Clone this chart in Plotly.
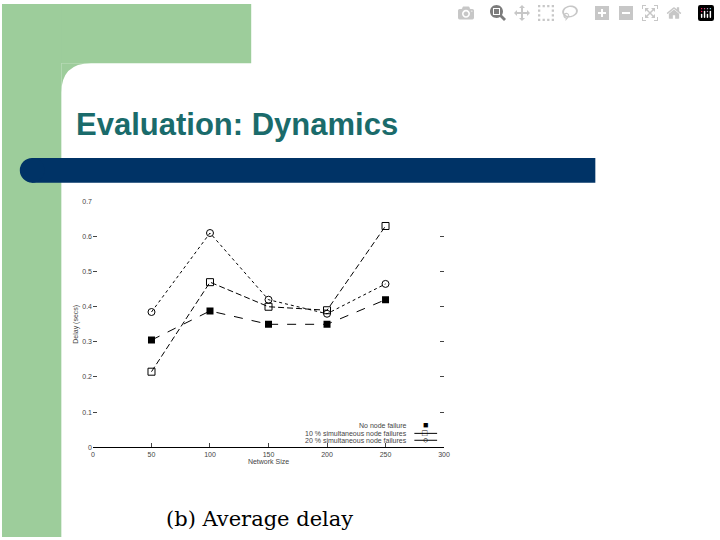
import plotly.graph_objects as go

sizes = [50, 100, 150, 200, 250]
no_fail = [0.305, 0.388, 0.35, 0.35, 0.42]
fail10 = [0.215, 0.47, 0.40, 0.39, 0.63]
fail20 = [0.385, 0.61, 0.42, 0.38, 0.465]
names = ["No node failure", "10 % simultaneous node failures", "20 % simultaneous node failures"]

W, H = 720, 540
def px(x): return x / W
def py(y): return 1 - y / H

fig = go.Figure()
fig.add_trace(go.Scatter(x=sizes, y=no_fail, name=names[0], mode="lines+markers",
    line=dict(color="black", width=1, dash="dash"),
    marker=dict(symbol="square", size=7, color="black")))
fig.add_trace(go.Scatter(x=sizes, y=fail10, name=names[1], mode="lines+markers",
    line=dict(color="black", width=1, dash="6px,3px"),
    marker=dict(symbol="square-open", size=7, color="black")))
fig.add_trace(go.Scatter(x=sizes, y=fail20, name=names[2], mode="lines+markers",
    line=dict(color="black", width=1, dash="dot"),
    marker=dict(symbol="circle-open", size=7, color="black")))

green = "#9dcd9b"
shapes = [
    dict(type="rect", xref="paper", yref="paper", x0=0, x1=px(252), y0=py(0), y1=py(60), fillcolor=green, line_width=0, layer="below"),
    dict(type="rect", xref="paper", yref="paper", x0=0, x1=px(60), y0=py(0), y1=py(540), fillcolor=green, line_width=0, layer="below"),
    dict(type="path", xref="paper", yref="paper",
         path=f"M {px(60)},{py(60)} L {px(90)},{py(60)} Q {px(60)},{py(60)} {px(60)},{py(90)} Z",
         fillcolor=green, line_width=0, layer="below"),
    dict(type="rect", xref="paper", yref="paper", x0=px(30), x1=px(600), y0=py(156), y1=py(181), fillcolor="#003366", line_width=0, layer="below"),
    dict(type="circle", xref="paper", yref="paper", x0=px(18), x1=px(43), y0=py(156), y1=py(181), fillcolor="#003366", line_width=0, layer="below"),
]
# legend sample lines
leg_y = [427, 435, 442]
for ly in leg_y[1:]:
    shapes.append(dict(type="line", xref="paper", yref="paper", x0=px(417), x1=px(440),
                       y0=py(ly), y1=py(ly), line=dict(color="black", width=1)))
annotations = [
    dict(text="<b>Evaluation: Dynamics</b>", xref="paper", yref="paper", x=px(73), y=py(122),
         xanchor="left", yanchor="middle", showarrow=False,
         font=dict(family="Liberation Sans", size=31, color="#1a6b6b")),
    dict(text="(b) Average delay", xref="paper", yref="paper", x=px(260), y=py(522),
         xanchor="center", yanchor="middle", showarrow=False,
         font=dict(family="DejaVu Serif", size=21, color="black")),
]
syms = ["■", "□", "○"]
for n, ly, s in zip(names, leg_y, syms):
    annotations.append(dict(text=n, xref="paper", yref="paper", x=px(412), y=py(ly),
        xanchor="right", yanchor="middle", showarrow=False, font=dict(size=7, color="#444")))
    annotations.append(dict(text=s, xref="paper", yref="paper", x=px(428), y=py(ly),
        xanchor="center", yanchor="middle", showarrow=False, font=dict(size=9, color="black")))

fig.update_layout(
    width=W, height=H, margin=dict(l=0, r=0, t=0, b=0), showlegend=False,
    paper_bgcolor="white", plot_bgcolor="white", shapes=shapes, annotations=annotations,
    font=dict(family="Liberation Sans", size=7, color="#444"),
    xaxis=dict(domain=[px(92), px(447)], range=[0, 300], dtick=50, ticks="inside", ticklen=4,
               showgrid=False, zeroline=False, showline=True, linecolor="black", linewidth=1,
               mirror=False, title=dict(text="Network Size", standoff=2, font=dict(size=7))),
    yaxis=dict(domain=[py(449), py(200)], range=[0, 0.7], dtick=0.1, ticks="inside", ticklen=4,
               showgrid=False, zeroline=False, showline=False, mirror="ticks",
               title=dict(text="Delay (secs)", standoff=2, font=dict(size=7))),
)
fig.write_html("out.html", post_script="document.body.style.margin='0';document.body.style.overflow='hidden';")
